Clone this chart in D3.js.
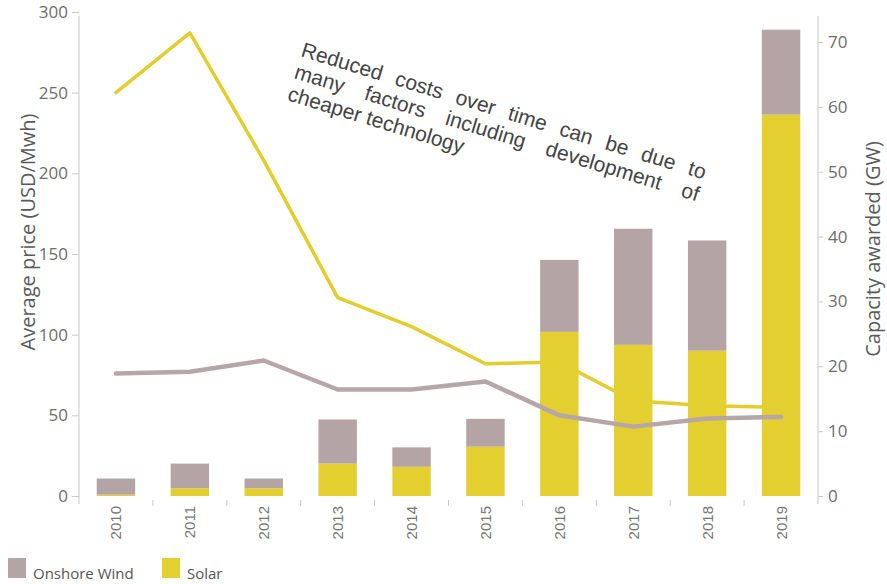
<!DOCTYPE html>
<html>
<head>
<meta charset="utf-8">
<script src="https://cdn.jsdelivr.net/npm/d3@7"></script>
<style>
  html, body { margin: 0; padding: 0; background: #fff; }
  svg { display: block; }
</style>
</head>
<body>
<svg id="chart" width="887" height="584"></svg>
<script>
// Auction results by year
const years = ["2010", "2011", "2012", "2013", "2014", "2015", "2016", "2017", "2018", "2019"];
// Average price (USD/MWh), left axis
const solarPrice = [250, 287, 208, 123, 105, 82, 83, 59, 56, 55];
const windPrice = [76, 77, 84, 66, 66, 71, 50, 43, 48, 49];
// Capacity awarded (GW), right axis
const solarGW = [0.2, 1.2, 1.2, 5.0, 4.5, 7.6, 25.3, 23.3, 22.4, 58.8];
const windGW = [2.5, 3.8, 1.5, 6.8, 3.0, 4.3, 11.1, 17.9, 17.0, 13.1];
// Axis ticks
const priceTicks = [0, 50, 100, 150, 200, 250, 300];
const gwTicks = [0, 10, 20, 30, 40, 50, 60, 70];
// Note text, one array per line
const noteLines = [
  ["Reduced", "costs", "over", "time", "can", "be", "due", "to"],
  ["many", "factors", "including", "development", "of"],
  ["cheaper", "technology"]
];

const colWind = "#b5a4a6";
const colSolar = "#e4cf30";
const axisGrey = "#c9c9c9";
const labelGrey = "#6d6d6d";

const svg = d3.select("#chart");
const plotLeft = 79, plotRight = 818, plotTop = 16, plotBase = 496;

const x = d3.scaleBand().domain(years).range([plotLeft, plotRight]).paddingInner(0.48).paddingOuter(0.24);
const yPrice = d3.scaleLinear().domain([0, 300]).range([plotBase, 12]);
const yGW = d3.scaleLinear().domain([0, 70]).range([plotBase, 42]);

const rows = years.map((y, i) => ({
  year: y, solarGW: solarGW[i], windGW: windGW[i],
  solarPrice: solarPrice[i], windPrice: windPrice[i]
}));

// Axis lines
svg.append("line").attr("x1", plotLeft).attr("x2", plotLeft).attr("y1", plotTop).attr("y2", 504)
  .attr("stroke", axisGrey).attr("stroke-width", 1);
svg.append("line").attr("x1", plotRight).attr("x2", plotRight).attr("y1", plotTop).attr("y2", 504)
  .attr("stroke", axisGrey).attr("stroke-width", 1);

// Left axis
const gL = svg.append("g").attr("transform", `translate(${plotLeft},0)`)
  .call(d3.axisLeft(yPrice).tickValues(priceTicks).tickSize(7).tickPadding(4).tickSizeOuter(0));
gL.select(".domain").remove();
gL.selectAll(".tick line").attr("stroke", axisGrey);
gL.selectAll(".tick text").attr("fill", labelGrey)
  .style("font-family", "'Open Sans', sans-serif").style("font-size", "17px");

// Right axis
const gR = svg.append("g").attr("transform", `translate(${plotRight},0)`)
  .call(d3.axisRight(yGW).tickValues(gwTicks).tickSize(5).tickPadding(5).tickSizeOuter(0));
gR.select(".domain").remove();
gR.selectAll(".tick line").attr("stroke", axisGrey);
gR.selectAll(".tick text").attr("fill", labelGrey)
  .style("font-family", "'Open Sans', sans-serif").style("font-size", "17px");

// Bottom category ticks at band boundaries
const boundaries = years.slice(1).map(y => x(y) - x.step() * x.paddingInner() / 2);
svg.append("g").selectAll("line").data(boundaries).join("line")
  .attr("x1", d => d).attr("x2", d => d).attr("y1", 500).attr("y2", 506)
  .attr("stroke", axisGrey);

// Year labels
svg.append("g").selectAll("text").data(years).join("text")
  .attr("transform", d => `translate(${x(d) + x.bandwidth() / 2 + 5.5},506) rotate(-90)`)
  .attr("text-anchor", "end")
  .attr("fill", "#777")
  .style("font-family", "'Liberation Sans', Arial, sans-serif").style("font-size", "15px")
  .text(d => d);

// Axis titles
svg.append("text")
  .attr("transform", "translate(35,232) rotate(-90)")
  .attr("text-anchor", "middle").attr("fill", "#5a5a5a")
  .style("font-family", "'Open Sans', sans-serif").style("font-size", "20px")
  .text("Average price (USD/Mwh)");
svg.append("text")
  .attr("transform", "translate(880,249) rotate(-90)")
  .attr("text-anchor", "middle").attr("fill", "#5a5a5a")
  .style("font-family", "'Open Sans', sans-serif").style("font-size", "20px")
  .text("Capacity awarded (GW)");

// Solar price line sits behind the bars
const lineGen = key => d3.line()
  .x(d => x(d.year) + x.bandwidth() / 2)
  .y(d => yPrice(d[key]));

svg.append("path").datum(rows)
  .attr("d", lineGen("solarPrice"))
  .attr("fill", "none").attr("stroke", "#e3cd2c").attr("stroke-width", 3.5)
  .attr("stroke-linejoin", "round").attr("stroke-linecap", "round");

// Stacked capacity bars
const bars = svg.append("g");
bars.selectAll("rect.solar").data(rows).join("rect").attr("class", "solar")
  .attr("x", d => x(d.year)).attr("width", x.bandwidth())
  .attr("y", d => yGW(d.solarGW)).attr("height", d => yGW(0) - yGW(d.solarGW))
  .attr("fill", colSolar);
bars.selectAll("rect.wind").data(rows).join("rect").attr("class", "wind")
  .attr("x", d => x(d.year)).attr("width", x.bandwidth())
  .attr("y", d => yGW(d.solarGW + d.windGW)).attr("height", d => yGW(d.solarGW) - yGW(d.solarGW + d.windGW))
  .attr("fill", colWind);

// Wind price line on top
svg.append("path").datum(rows)
  .attr("d", lineGen("windPrice"))
  .attr("fill", "none").attr("stroke", "#b7a6a8").attr("stroke-width", 4.5)
  .attr("stroke-linejoin", "round").attr("stroke-linecap", "round");

// Rotated, justified note
const note = svg.append("g").attr("transform", "translate(300,56) rotate(17)")
  .style("font-family", "'Liberation Sans', Arial, sans-serif").style("font-size", "21px")
  .attr("fill", "#444");
const lineWidth = 422, lineGap = 23;
noteLines.forEach((words, li) => {
  const texts = words.map(w => note.append("text").attr("y", li * lineGap).text(w));
  const widths = texts.map(t => t.node().getComputedTextLength());
  const total = d3.sum(widths);
  const justify = li < noteLines.length - 1;
  const gap = justify ? (lineWidth - total) / (words.length - 1) : 5.8;
  let cx = 0;
  texts.forEach((t, i) => { t.attr("x", cx); cx += widths[i] + gap; });
});

// Legend
const legend = [{ name: "Onshore Wind", color: colWind, x: 8 }, { name: "Solar", color: colSolar, x: 162 }];
const lg = svg.append("g").selectAll("g").data(legend).join("g")
  .attr("transform", d => `translate(${d.x},558)`);
lg.append("rect").attr("width", 18).attr("height", 20).attr("fill", d => d.color);
lg.append("text").attr("x", 25).attr("y", 21)
  .attr("fill", "#555")
  .style("font-family", "'Open Sans', sans-serif").style("font-size", "15px")
  .text(d => d.name);
</script>
</body>
</html>
